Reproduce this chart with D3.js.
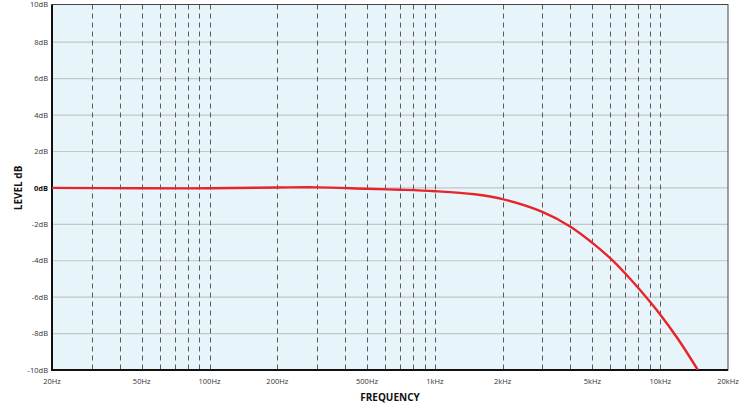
<!DOCTYPE html>
<html><head><meta charset="utf-8">
<script src="https://cdn.jsdelivr.net/npm/d3@7"></script>
<style>
html,body{margin:0;padding:0;background:#fff;}
svg{display:block;font-family:"Open Sans",sans-serif;}
</style></head>
<body><svg id="c" width="754" height="408"></svg>
<script>
const freqs = [20, 50, 100, 200, 300, 500, 700, 1000, 1500, 2000, 3000, 4000, 5000, 6000, 7000, 8000, 10000, 12000, 14700];
const levels = [0, -0.02, -0.02, 0.02, 0.03, -0.05, -0.1, -0.18, -0.35, -0.62, -1.32, -2.13, -3.02, -3.86, -4.7, -5.5, -6.95, -8.3, -10];
const xTickValues = [20, 50, 100, 200, 500, 1000, 2000, 5000, 10000, 20000];
const xTickLabels = ["20Hz", "50Hz", "100Hz", "200Hz", "500Hz", "1kHz", "2kHz", "5kHz", "10kHz", "20kHz"];
const xGridValues = [30,40,50,60,70,80,90,100,200,300,400,500,600,700,800,900,1000,2000,3000,4000,5000,6000,7000,8000,9000,10000];
const yTickValues = [-10,-8,-6,-4,-2,0,2,4,6,8,10];
const yTickLabels = ["-10dB","-8dB","-6dB","-4dB","-2dB","0dB","2dB","4dB","6dB","8dB","10dB"];

const svg = d3.select("#c");
const L = 52, R = 728, T = 5.8, B = 370;
const x = d3.scaleLog().domain([20, 20000]).range([L, R]);
const y = d3.scaleLinear().domain([-10, 10]).range([B, T]);
const plotTop = 4.5;

svg.append("rect").attr("x", L).attr("y", plotTop).attr("width", R - L).attr("height", B - plotTop).attr("fill", "#e7f4f9");

// horizontal grid
svg.append("g").selectAll("line").data(yTickValues.filter(v => v > -10 && v < 10)).join("line")
  .attr("x1", L).attr("x2", R).attr("y1", d => y(d)).attr("y2", d => y(d))
  .attr("stroke", "#c4c6c8").attr("stroke-width", 1.2);

// vertical dashed grid
svg.append("g").selectAll("line").data(xGridValues).join("line")
  .attr("x1", d => Math.round(x(d)) + 0.5).attr("x2", d => Math.round(x(d)) + 0.5)
  .attr("y1", plotTop).attr("y2", B)
  .attr("stroke", "#5a5a5a").attr("stroke-width", 1).attr("stroke-dasharray", "5,4");

// border
svg.append("rect").attr("x", L).attr("y", plotTop).attr("width", R - L).attr("height", B - plotTop)
  .attr("fill", "none").attr("stroke", "#444").attr("stroke-width", 1);
svg.append("line").attr("x1", L).attr("x2", L).attr("y1", plotTop).attr("y2", B + 1).attr("stroke", "#111").attr("stroke-width", 2);
svg.append("line").attr("x1", L - 1).attr("x2", R).attr("y1", B).attr("y2", B).attr("stroke", "#111").attr("stroke-width", 2);

// clip + curve
svg.append("clipPath").attr("id", "clip").append("rect").attr("x", L).attr("y", plotTop).attr("width", R - L).attr("height", B - plotTop);
const pts = freqs.map((f, i) => [f, levels[i]]);
const line = d3.line().x(d => x(d[0])).y(d => y(d[1])).curve(d3.curveCatmullRom.alpha(0.5));
svg.append("path").datum(pts).attr("d", line).attr("fill", "none")
  .attr("stroke", "#e8242a").attr("stroke-width", 2.4).attr("clip-path", "url(#clip)");

// y ticks labels
svg.append("g").selectAll("text").data(yTickValues).join("text")
  .attr("x", L - 4).attr("y", d => d === 10 ? 4 : y(d)).attr("dy", "0.35em")
  .attr("text-anchor", "end").attr("font-size", 7.5)
  .attr("font-weight", d => d === 0 ? 700 : 400)
  .attr("fill", d => d === 0 ? "#111" : "#333")
  .text((d, i) => yTickLabels[i]);

// x tick labels
svg.append("g").selectAll("text").data(xTickValues).join("text")
  .attr("x", d => x(d)).attr("y", 384)
  .attr("text-anchor", "middle").attr("font-size", 7.5).attr("fill", "#333")
  .text((d, i) => xTickLabels[i]);

// axis titles
svg.append("text").attr("x", (L + R) / 2).attr("y", 401).attr("text-anchor", "middle")
  .attr("font-size", 10).attr("font-weight", 700).attr("fill", "#111").text("FREQUENCY");
svg.append("text").attr("transform", `translate(22,${y(0)}) rotate(-90)`)
  .attr("text-anchor", "middle").attr("font-size", 10).attr("font-weight", 700).attr("fill", "#111").text("LEVEL dB");
</script></body></html>
